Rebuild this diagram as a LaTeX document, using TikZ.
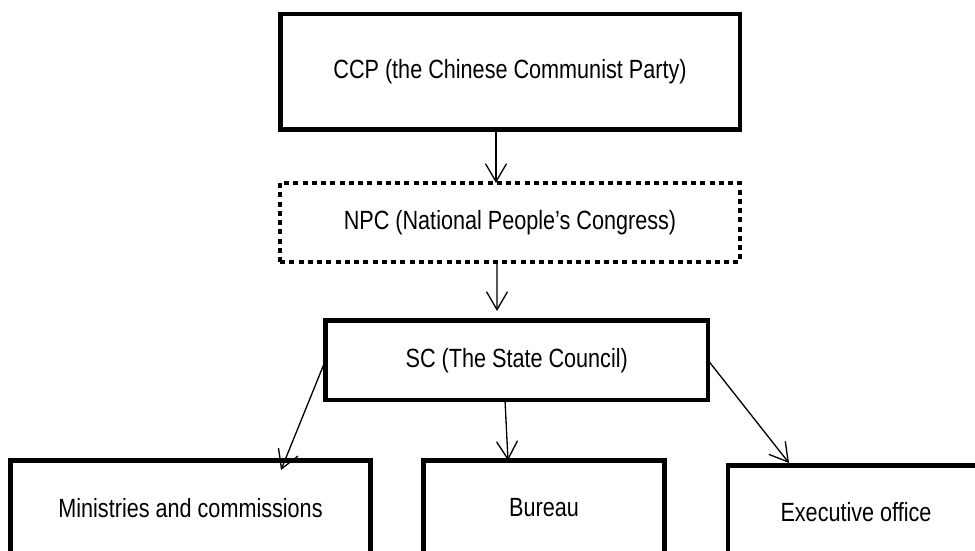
\documentclass[tikz,border=0pt]{standalone}
\usepackage{fontspec}
\setmainfont{Liberation Sans}[FakeStretch=0.82]
\usetikzlibrary{arrows.meta}
\tikzset{
	box/.style={draw, line width=0.09cm, inner sep=0pt, outer sep=0pt},
	dotbox/.style={draw, line width=0.08cm, dash pattern=on 0.1cm off 0.085cm, inner sep=0pt, outer sep=0pt},
	link/.style={->, line width=0.75pt, line cap=round}
}
\begin{document}
\begin{tikzpicture}[font=\fontsize{15pt}{18pt}\selectfont, line join=miter, >={Straight Barb[length=3.6mm,width=4.2mm]}]
	\useasboundingbox (0,0) rectangle (19.5,11.02);
	\clip (0,0) rectangle (19.5,11.02);

	\node[box, minimum width=9.19cm, minimum height=2.31cm] (ccp) at (10.2,9.585) {CCP (the Chinese Communist Party)};
	\node[dotbox, minimum width=9.2cm, minimum height=1.58cm] (npc) at (10.2,6.57) {NPC (National People’s Congress)};
	\node[box, minimum width=7.65cm, minimum height=1.59cm] (sc) at (10.335,3.815) {SC (The State Council)};

	\node[box, minimum width=7.2cm, minimum height=1.9cm] (min) at (3.81,0.86) {Ministries and commissions};
	\node[box, minimum width=4.82cm, minimum height=1.9cm] (bur) at (10.88,0.86) {Bureau};
	\node[box, minimum width=5.12cm, minimum height=1.86cm] (exe) at (17.12,0.78) {Executive office};

	\draw[link] ([xshift=-0.28cm]ccp.south)--([xshift=-0.28cm]npc.north);
	\draw[link, shorten >=0.19cm] ([xshift=-0.26cm]npc.south)--([xshift=-0.395cm]sc.north);
	\draw[link] (sc.west)--([xshift=1.81cm,yshift=-0.19cm]min.north);
	\draw[link] ([xshift=-0.235cm]sc.south)--([xshift=-0.72cm]bur.north);
	\draw[link] (sc.east)--([xshift=-1.34cm,yshift=0.05cm]exe.north);
\end{tikzpicture}
\end{document}
